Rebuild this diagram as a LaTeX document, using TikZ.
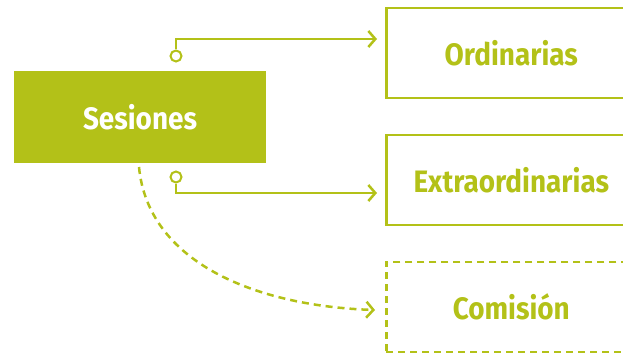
\documentclass[tikz,border=0pt]{standalone}
\usepackage{fontspec}
\setmainfont{Fira Sans}[FakeStretch=0.9]
\usetikzlibrary{arrows.meta}
\definecolor{lime}{HTML}{B3C118}
\begin{document}
\begin{tikzpicture}[x=1pt,y=-1pt,
  lbl/.style={font=\bfseries\fontsize{31}{34}\selectfont},
  outbox/.style={draw=lime,line width=2.5pt,text=lime,lbl,minimum width=250pt,minimum height=90pt,inner sep=0pt},
  conn/.style={draw=lime,line width=2.5pt,-{Straight Barb[length=7pt,width=16pt,line width=2.5pt]}},
  dot/.style={circle,draw=lime,line width=2pt,fill=white,minimum size=11pt,inner sep=0pt}]
\useasboundingbox (0,0) rectangle (623,353);
\clip (0,0) rectangle (623,353);
\node[fill=lime,text=white,lbl,minimum width=252pt,minimum height=92pt,inner sep=0pt] (ses) at (140,117) {Sesiones};
\node[outbox,anchor=west] (ord) at (385,53) {Ordinarias};
\node[outbox,anchor=west] (ext) at (385,180) {Extraordinarias};
\node[outbox,anchor=west,dashed,dash pattern=on 7pt off 5pt] (com) at (385,307) {Comisión};
\node[dot] (d1) at (176,56) {};
\node[dot] (d2) at (176,177) {};
\draw[conn] (d1.north) |- ([xshift=-8pt]ord.west |- 0,39);
\draw[conn] (d2.south) |- ([xshift=-8pt]ext.west |- 0,193);
\coordinate (cs) at (139,167);
\draw[conn,dash pattern=on 7pt off 5pt] (cs) .. controls (148,262) and (255,306) .. ([xshift=-10pt]com.west |- 0,310);
\end{tikzpicture}
\end{document}
